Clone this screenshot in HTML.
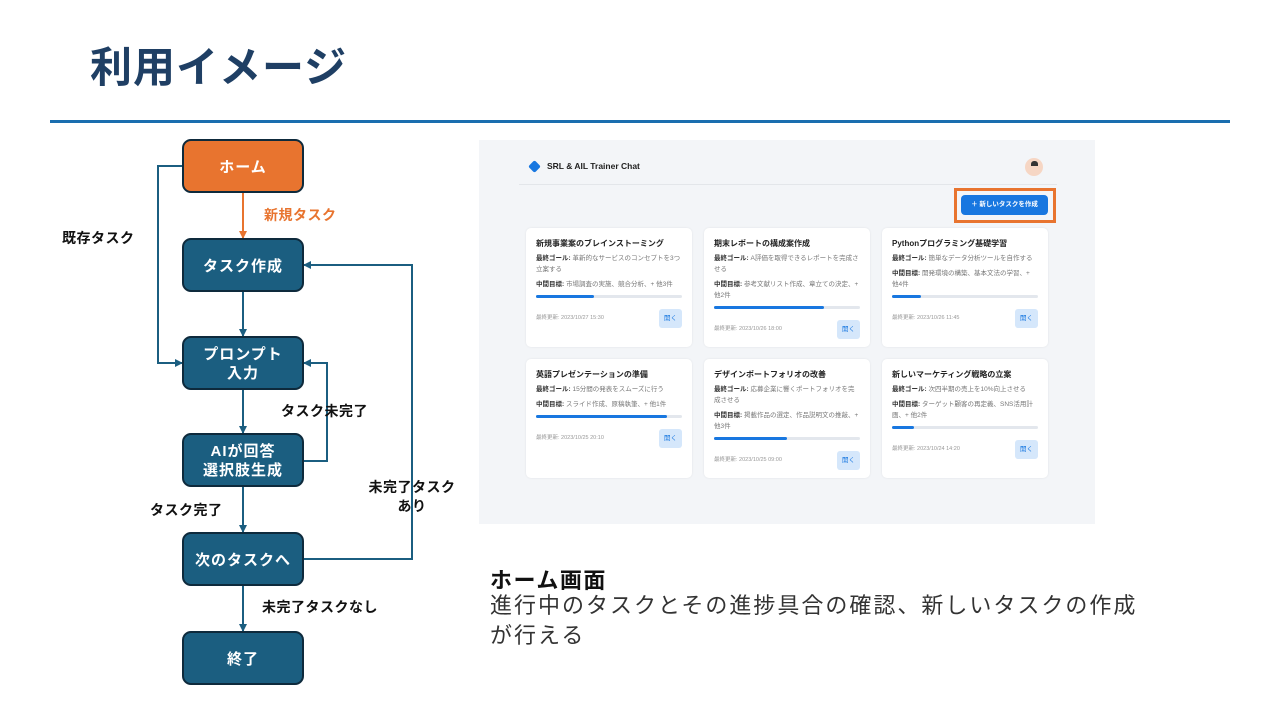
<!DOCTYPE html>
<html><head><meta charset="utf-8">
<style>
*{margin:0;padding:0;box-sizing:border-box}
body{width:1280px;height:720px;background:#fff;position:relative;overflow:hidden;font-family:"Liberation Sans","Noto Sans CJK JP",sans-serif}
.abs{position:absolute}
.title{left:90px;top:40px;font-size:42px;font-weight:bold;color:#1F3F64;letter-spacing:1px;line-height:56px}
.hr{left:50px;top:120px;width:1180px;height:3px;background:#1A6EAF}
.shot{left:479px;top:140px;width:616px;height:384px;background:#f3f5f8}
.card{position:absolute;background:#fff;border-radius:5px;box-shadow:0 0 2px rgba(0,0,0,.08);width:166px;padding:10px 10px 0 10px;font-size:6.5px;color:#777;line-height:11px}
.card .t{font-size:8px;font-weight:bold;color:#222;margin-bottom:4px}
.card b{color:#333}
.card p{margin-bottom:4px}
.bar{height:3px;background:#e3e7ed;border-radius:2px;margin:5px 0 11px}
.bar i{display:block;height:3px;background:#1877e0;border-radius:2px}
.ft{display:flex;justify-content:space-between;align-items:center;font-size:5.5px;color:#999}
.btn{background:#d5e7fb;color:#1877e0;font-size:6.5px;padding:4px 5px;border-radius:3px}
.cap1{left:490px;top:563px;font-size:22px;font-weight:bold;color:#111;letter-spacing:1.5px}
.cap2{left:490px;top:591px;font-size:22px;color:#333;letter-spacing:2px;line-height:30px;width:680px}
</style></head><body>
<div class="abs title">利用イメージ</div>
<div class="abs hr"></div>

<svg class="abs" style="left:0;top:0" width="480" height="720">
<defs>
<marker id="a" markerWidth="8" markerHeight="8" refX="7" refY="4" orient="auto" markerUnits="userSpaceOnUse"><path d="M0,0 L8,4 L0,8 z" fill="#1B5E80"/></marker>
<marker id="o" markerWidth="8" markerHeight="8" refX="7" refY="4" orient="auto" markerUnits="userSpaceOnUse"><path d="M0,0 L8,4 L0,8 z" fill="#E8742F"/></marker>
</defs>
<g fill="none" stroke-width="2">
<line x1="243" y1="192" x2="243" y2="238" stroke="#E8742F" marker-end="url(#o)"/>
<polyline points="183,166 158,166 158,363 182,363" stroke="#1B5E80" marker-end="url(#a)"/>
<line x1="243" y1="291" x2="243" y2="336" stroke="#1B5E80" marker-end="url(#a)"/>
<line x1="243" y1="389" x2="243" y2="433" stroke="#1B5E80" marker-end="url(#a)"/>
<polyline points="303,461 327,461 327,363 304,363" stroke="#1B5E80" marker-end="url(#a)"/>
<line x1="243" y1="486" x2="243" y2="532" stroke="#1B5E80" marker-end="url(#a)"/>
<polyline points="303,559 412,559 412,265 304,265" stroke="#1B5E80" marker-end="url(#a)"/>
<line x1="243" y1="585" x2="243" y2="631" stroke="#1B5E80" marker-end="url(#a)"/>
</g>
<g stroke="#0E2A3C" stroke-width="2">
<rect x="183" y="140" width="120" height="52" rx="8" fill="#E8742F"/>
<rect x="183" y="239" width="120" height="52" rx="8" fill="#1B5E80"/>
<rect x="183" y="337" width="120" height="52" rx="8" fill="#1B5E80"/>
<rect x="183" y="434" width="120" height="52" rx="8" fill="#1B5E80"/>
<rect x="183" y="533" width="120" height="52" rx="8" fill="#1B5E80"/>
<rect x="183" y="632" width="120" height="52" rx="8" fill="#1B5E80"/>
</g>
<g font-family="Liberation Sans, Noto Sans CJK JP, sans-serif" font-weight="bold" font-size="15" fill="#fff" text-anchor="middle" letter-spacing="1">
<text x="243" y="172">ホーム</text>
<text x="243" y="271">タスク作成</text>
<text x="243" y="359">プロンプト</text>
<text x="243" y="378">入力</text>
<text x="243" y="456">AIが回答</text>
<text x="243" y="475">選択肢生成</text>
<text x="243" y="565">次のタスクへ</text>
<text x="243" y="664">終了</text>
</g>
<g font-family="Liberation Sans, Noto Sans CJK JP, sans-serif" font-weight="bold" font-size="14" fill="#111" letter-spacing="0.5">
<text x="264" y="220" fill="#E8742F">新規タスク</text>
<text x="62" y="243">既存タスク</text>
<text x="281" y="416">タスク未完了</text>
<text x="150" y="515">タスク完了</text>
<text x="412" y="492" text-anchor="middle">未完了タスク</text>
<text x="412" y="511" text-anchor="middle">あり</text>
<text x="262" y="612">未完了タスクなし</text>
</g>
</svg>

<div class="abs shot">
  <div class="abs" style="left:51px;top:22px;width:9px;height:9px;background:#1877e0;transform:rotate(45deg);border-radius:2px"></div>
  <div class="abs" style="left:68px;top:21px;font-size:8.5px;font-weight:bold;color:#222">SRL &amp; AIL Trainer Chat</div>
  <div class="abs" style="left:546px;top:18px;width:18px;height:18px;border-radius:50%;background:#f6d6c4"></div>
  <div class="abs" style="left:552px;top:21px;width:7px;height:5px;border-radius:3px 3px 0 0;background:#333"></div>
  <div class="abs" style="left:40px;top:44px;width:538px;height:1px;background:#e3e6ea"></div>
  <div class="abs" style="left:475px;top:48px;width:102px;height:35px;border:3px solid #E8742F"></div>
  <div class="abs" style="left:482px;top:55px;width:87px;height:20px;background:#1877e0;border-radius:4px;color:#fff;font-size:6.5px;font-weight:bold;line-height:20px;text-align:center">＋ 新しいタスクを作成</div>

  <div class="card" style="left:47px;top:88px;height:119px">
    <div class="t">新規事業案のブレインストーミング</div>
    <p><b>最終ゴール:</b> 革新的なサービスのコンセプトを3つ立案する</p>
    <p><b>中間目標:</b> 市場調査の実施、競合分析、+ 他3件</p>
    <div class="bar"><i style="width:40%"></i></div>
    <div class="ft"><span>最終更新: 2023/10/27 15:30</span><span class="btn">開く</span></div>
  </div>
  <div class="card" style="left:225px;top:88px;height:119px">
    <div class="t">期末レポートの構成案作成</div>
    <p><b>最終ゴール:</b> A評価を取得できるレポートを完成させる</p>
    <p><b>中間目標:</b> 参考文献リスト作成、章立ての決定、+ 他2件</p>
    <div class="bar"><i style="width:75%"></i></div>
    <div class="ft"><span>最終更新: 2023/10/26 18:00</span><span class="btn">開く</span></div>
  </div>
  <div class="card" style="left:403px;top:88px;height:119px">
    <div class="t">Pythonプログラミング基礎学習</div>
    <p><b>最終ゴール:</b> 簡単なデータ分析ツールを自作する</p>
    <p><b>中間目標:</b> 開発環境の構築、基本文法の学習、+ 他4件</p>
    <div class="bar"><i style="width:20%"></i></div>
    <div class="ft"><span>最終更新: 2023/10/26 11:45</span><span class="btn">開く</span></div>
  </div>

  <div class="card" style="left:47px;top:219px;height:119px">
    <div class="t">英語プレゼンテーションの準備</div>
    <p><b>最終ゴール:</b> 15分間の発表をスムーズに行う</p>
    <p><b>中間目標:</b> スライド作成、原稿執筆、+ 他1件</p>
    <div class="bar"><i style="width:90%"></i></div>
    <div class="ft"><span>最終更新: 2023/10/25 20:10</span><span class="btn">開く</span></div>
  </div>
  <div class="card" style="left:225px;top:219px;height:119px">
    <div class="t">デザインポートフォリオの改善</div>
    <p><b>最終ゴール:</b> 応募企業に響くポートフォリオを完成させる</p>
    <p><b>中間目標:</b> 掲載作品の選定、作品説明文の推敲、+ 他3件</p>
    <div class="bar"><i style="width:50%"></i></div>
    <div class="ft"><span>最終更新: 2023/10/25 09:00</span><span class="btn">開く</span></div>
  </div>
  <div class="card" style="left:403px;top:219px;height:119px">
    <div class="t">新しいマーケティング戦略の立案</div>
    <p><b>最終ゴール:</b> 次四半期の売上を10%向上させる</p>
    <p><b>中間目標:</b> ターゲット顧客の再定義、SNS活用計画、+ 他2件</p>
    <div class="bar"><i style="width:15%"></i></div>
    <div class="ft"><span>最終更新: 2023/10/24 14:20</span><span class="btn">開く</span></div>
  </div>
</div>

<div class="abs cap1">ホーム画面</div>
<div class="abs cap2">進行中のタスクとその進捗具合の確認、新しいタスクの作成<br>が行える</div>
</body></html>
